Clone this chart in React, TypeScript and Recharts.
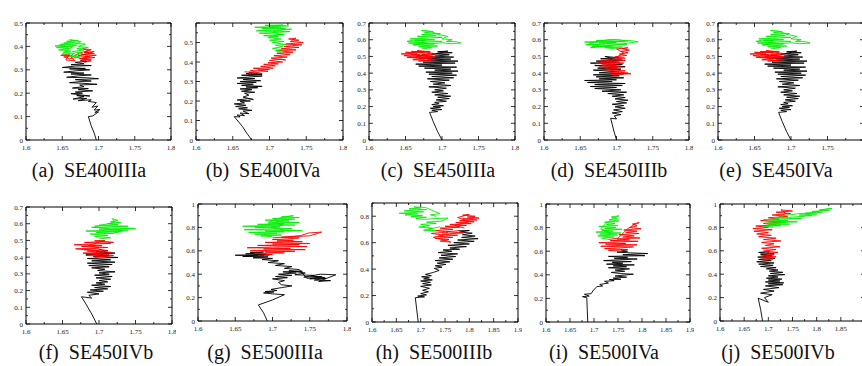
import React from 'react';
import { LineChart, Line, XAxis, YAxis, ReferenceArea } from 'recharts';

type Pt = [number, number];

// trajectories, (x, y) pairs in data units
const aBlack: Pt[] = [[1.697,0],[1.694,0.03],[1.690,0.06],[1.686,0.1],[1.692,0.103],[1.700,0.12],[1.695,0.118],[1.702,0.13],[1.694,0.128],[1.699,0.145],[1.691,0.14],[1.697,0.16],[1.686,0.165],[1.690,0.172],[1.672,0.168],[1.684,0.178],[1.665,0.175],[1.680,0.185],[1.670,0.19],[1.688,0.188],[1.662,0.198],[1.678,0.2],[1.668,0.205],[1.692,0.21],[1.672,0.215],[1.686,0.22],[1.664,0.222],[1.680,0.228],[1.674,0.235],[1.698,0.238],[1.680,0.242],[1.660,0.245],[1.676,0.25],[1.690,0.252],[1.668,0.258],[1.700,0.262],[1.684,0.266],[1.656,0.268],[1.672,0.274],[1.690,0.278],[1.662,0.282],[1.680,0.286],[1.652,0.29],[1.670,0.296],[1.688,0.3],[1.660,0.304],[1.682,0.306],[1.650,0.31],[1.668,0.316],[1.690,0.318],[1.662,0.322],[1.680,0.326],[1.668,0.332],[1.684,0.336],[1.675,0.34]];
const aRed: Pt[] = [[1.675,0.34],[1.690,0.345],[1.678,0.35],[1.695,0.352],[1.682,0.358],[1.697,0.362],[1.676,0.365],[1.692,0.37],[1.680,0.374],[1.694,0.378],[1.685,0.368],[1.672,0.36],[1.688,0.355],[1.674,0.348],[1.690,0.338],[1.680,0.332],[1.684,0.346],[1.670,0.352],[1.660,0.348],[1.652,0.355],[1.664,0.36],[1.648,0.362],[1.660,0.368],[1.655,0.342],[1.668,0.338],[1.662,0.352],[1.674,0.372],[1.686,0.382],[1.678,0.39],[1.690,0.386],[1.682,0.376],[1.695,0.368]];
const aGreen: Pt[] = [[1.668,0.37],[1.652,0.375],[1.662,0.38],[1.645,0.385],[1.660,0.39],[1.642,0.395],[1.658,0.398],[1.640,0.402],[1.655,0.405],[1.648,0.41],[1.662,0.408],[1.652,0.415],[1.668,0.418],[1.656,0.422],[1.672,0.425],[1.660,0.428],[1.676,0.42],[1.668,0.412],[1.682,0.41],[1.672,0.4],[1.686,0.395],[1.670,0.39],[1.680,0.385],[1.664,0.378],[1.678,0.37],[1.668,0.362],[1.674,0.355],[1.660,0.358],[1.666,0.368],[1.650,0.368],[1.658,0.385],[1.665,0.4],[1.648,0.398],[1.670,0.405],[1.658,0.412],[1.645,0.405]];

const bBlack: Pt[] = [[1.676,0],[1.670,0.03],[1.663,0.07],[1.652,0.12],[1.660,0.118],[1.656,0.128],[1.666,0.125],[1.660,0.138],[1.672,0.135],[1.664,0.148],[1.676,0.152],[1.658,0.16],[1.670,0.165],[1.654,0.172],[1.668,0.178],[1.652,0.185],[1.666,0.19],[1.660,0.198],[1.674,0.2],[1.656,0.205],[1.670,0.212],[1.678,0.208],[1.664,0.22],[1.672,0.23],[1.666,0.24],[1.680,0.245],[1.662,0.25],[1.676,0.258],[1.660,0.262],[1.684,0.268],[1.668,0.272],[1.690,0.275],[1.662,0.28],[1.678,0.286],[1.656,0.29],[1.682,0.296],[1.660,0.3],[1.688,0.304],[1.664,0.31],[1.680,0.315],[1.656,0.318],[1.676,0.324],[1.690,0.328],[1.662,0.332],[1.684,0.336],[1.668,0.34],[1.690,0.335],[1.672,0.348],[1.676,0.345]];
const bRed: Pt[] = [[1.666,0.35],[1.680,0.345],[1.690,0.34],[1.674,0.356],[1.698,0.352],[1.684,0.36],[1.700,0.362],[1.678,0.368],[1.694,0.37],[1.705,0.368],[1.688,0.378],[1.708,0.38],[1.692,0.388],[1.712,0.39],[1.698,0.396],[1.718,0.4],[1.700,0.408],[1.715,0.415],[1.722,0.41],[1.702,0.42],[1.724,0.425],[1.706,0.432],[1.728,0.438],[1.710,0.445],[1.732,0.45],[1.712,0.458],[1.736,0.462],[1.716,0.468],[1.740,0.475],[1.720,0.48],[1.744,0.488],[1.722,0.492],[1.746,0.5],[1.728,0.505],[1.740,0.512],[1.726,0.518],[1.736,0.522],[1.730,0.51]];
const bGreen: Pt[] = [[1.715,0.45],[1.708,0.458],[1.720,0.462],[1.704,0.47],[1.718,0.478],[1.708,0.486],[1.722,0.49],[1.704,0.5],[1.720,0.505],[1.700,0.512],[1.716,0.518],[1.698,0.525],[1.712,0.53],[1.692,0.535],[1.720,0.54],[1.686,0.548],[1.712,0.552],[1.728,0.556],[1.682,0.56],[1.700,0.562],[1.730,0.568],[1.690,0.572],[1.716,0.575],[1.680,0.578],[1.708,0.582],[1.726,0.585],[1.694,0.588],[1.718,0.59],[1.700,0.578],[1.722,0.57],[1.705,0.555],[1.715,0.54],[1.700,0.53]];

const cBlack: Pt[] = [[1.700,0],[1.694,0.05],[1.688,0.11],[1.683,0.165],[1.694,0.17],[1.686,0.178],[1.700,0.182],[1.684,0.19],[1.698,0.196],[1.688,0.2],[1.702,0.205],[1.686,0.212],[1.696,0.218],[1.690,0.225],[1.706,0.232],[1.692,0.24],[1.710,0.248],[1.694,0.256],[1.712,0.262],[1.690,0.27],[1.708,0.278],[1.686,0.286],[1.702,0.294],[1.690,0.3],[1.706,0.31],[1.682,0.318],[1.712,0.326],[1.688,0.334],[1.704,0.342],[1.684,0.35],[1.710,0.358],[1.680,0.366],[1.716,0.372],[1.686,0.38],[1.720,0.388],[1.682,0.394],[1.714,0.4],[1.678,0.406],[1.722,0.412],[1.690,0.418],[1.712,0.424],[1.676,0.43],[1.720,0.436],[1.668,0.442],[1.700,0.448],[1.664,0.454],[1.718,0.46],[1.674,0.466],[1.722,0.472],[1.680,0.478],[1.712,0.484],[1.670,0.49],[1.716,0.496],[1.690,0.502],[1.710,0.51],[1.686,0.516],[1.714,0.522],[1.694,0.528],[1.708,0.532],[1.685,0.51]];
const cRed: Pt[] = [[1.685,0.51],[1.668,0.505],[1.690,0.5],[1.660,0.496],[1.686,0.49],[1.652,0.495],[1.676,0.485],[1.660,0.48],[1.682,0.476],[1.668,0.472],[1.690,0.48],[1.672,0.49],[1.648,0.505],[1.670,0.51],[1.644,0.515],[1.666,0.52],[1.650,0.525],[1.676,0.522],[1.658,0.53],[1.684,0.528],[1.666,0.535],[1.692,0.515],[1.672,0.512],[1.688,0.5],[1.658,0.51],[1.680,0.505],[1.664,0.498],[1.684,0.518],[1.670,0.525]];
const cGreen: Pt[] = [[1.672,0.545],[1.686,0.552],[1.668,0.558],[1.694,0.562],[1.660,0.57],[1.690,0.575],[1.654,0.58],[1.680,0.585],[1.700,0.59],[1.662,0.595],[1.690,0.6],[1.656,0.605],[1.684,0.61],[1.700,0.614],[1.666,0.62],[1.692,0.625],[1.672,0.632],[1.698,0.636],[1.676,0.642],[1.688,0.648],[1.672,0.655],[1.684,0.65],[1.696,0.63],[1.708,0.62],[1.700,0.605],[1.714,0.6],[1.706,0.59],[1.720,0.588],[1.726,0.58],[1.712,0.576],[1.700,0.582],[1.684,0.575],[1.668,0.585],[1.652,0.59],[1.664,0.6],[1.676,0.595],[1.662,0.565]];

const dBlack: Pt[] = [[1.700,0],[1.696,0.06],[1.692,0.13],[1.700,0.126],[1.697,0.145],[1.706,0.152],[1.694,0.162],[1.708,0.17],[1.696,0.18],[1.712,0.19],[1.698,0.198],[1.710,0.206],[1.694,0.214],[1.714,0.222],[1.700,0.23],[1.716,0.238],[1.698,0.246],[1.712,0.254],[1.694,0.262],[1.710,0.27],[1.688,0.278],[1.714,0.286],[1.680,0.292],[1.706,0.3],[1.670,0.308],[1.700,0.314],[1.664,0.32],[1.708,0.326],[1.670,0.332],[1.712,0.338],[1.660,0.344],[1.694,0.35],[1.656,0.356],[1.700,0.36],[1.676,0.366],[1.710,0.372],[1.672,0.378],[1.704,0.384],[1.668,0.39],[1.710,0.396],[1.676,0.402],[1.700,0.41],[1.668,0.418],[1.706,0.424],[1.674,0.43],[1.712,0.438],[1.670,0.445],[1.708,0.452],[1.664,0.46],[1.700,0.466],[1.672,0.472],[1.708,0.478],[1.678,0.486],[1.704,0.492],[1.684,0.5],[1.700,0.48]];
const dRed: Pt[] = [[1.700,0.48],[1.678,0.472],[1.704,0.466],[1.674,0.46],[1.698,0.454],[1.680,0.448],[1.706,0.442],[1.676,0.436],[1.700,0.43],[1.686,0.42],[1.712,0.414],[1.690,0.406],[1.716,0.4],[1.694,0.392],[1.720,0.396],[1.700,0.41],[1.684,0.426],[1.702,0.44],[1.690,0.452],[1.710,0.46],[1.692,0.468],[1.712,0.476],[1.694,0.484],[1.712,0.49],[1.698,0.498],[1.714,0.506],[1.704,0.514],[1.716,0.522],[1.706,0.53],[1.718,0.538],[1.708,0.546],[1.716,0.552],[1.700,0.545],[1.710,0.52],[1.690,0.47],[1.670,0.455]];
const dGreen: Pt[] = [[1.700,0.545],[1.684,0.552],[1.708,0.556],[1.666,0.56],[1.694,0.565],[1.658,0.57],[1.688,0.574],[1.714,0.572],[1.676,0.58],[1.700,0.584],[1.656,0.586],[1.684,0.59],[1.712,0.588],[1.672,0.595],[1.698,0.598],[1.720,0.594],[1.730,0.588],[1.716,0.58],[1.704,0.572],[1.690,0.56],[1.664,0.552],[1.676,0.565],[1.662,0.58],[1.688,0.6],[1.700,0.602],[1.716,0.59]];

// panel (e) is drawn from the same run as (c) in the figure
const eBlack = cBlack;
const eRed = cRed;
const eGreen = cGreen;

const fBlack: Pt[] = [[1.697,0],[1.690,0.06],[1.682,0.12],[1.676,0.163],[1.690,0.155],[1.686,0.172],[1.700,0.18],[1.684,0.19],[1.706,0.196],[1.688,0.204],[1.712,0.21],[1.694,0.218],[1.716,0.224],[1.690,0.232],[1.708,0.238],[1.696,0.246],[1.712,0.252],[1.700,0.26],[1.716,0.268],[1.696,0.276],[1.718,0.284],[1.694,0.292],[1.714,0.298],[1.700,0.306],[1.722,0.312],[1.698,0.32],[1.708,0.328],[1.690,0.336],[1.714,0.342],[1.686,0.35],[1.718,0.356],[1.684,0.364],[1.722,0.37],[1.690,0.378],[1.716,0.384],[1.684,0.392],[1.726,0.398],[1.692,0.406],[1.714,0.412],[1.682,0.418],[1.722,0.424],[1.696,0.432],[1.712,0.438],[1.700,0.446]];
const fRed: Pt[] = [[1.700,0.44],[1.684,0.436],[1.706,0.43],[1.678,0.424],[1.700,0.418],[1.682,0.41],[1.712,0.405],[1.694,0.4],[1.720,0.41],[1.696,0.42],[1.718,0.428],[1.690,0.44],[1.668,0.45],[1.692,0.454],[1.712,0.458],[1.676,0.464],[1.704,0.468],[1.666,0.474],[1.690,0.478],[1.716,0.482],[1.680,0.488],[1.702,0.492],[1.720,0.488],[1.694,0.498],[1.708,0.5],[1.686,0.47],[1.700,0.455],[1.680,0.445],[1.712,0.44]];
const fGreen: Pt[] = [[1.700,0.51],[1.716,0.516],[1.694,0.524],[1.712,0.53],[1.688,0.538],[1.720,0.542],[1.696,0.548],[1.730,0.552],[1.682,0.556],[1.710,0.56],[1.740,0.562],[1.700,0.568],[1.750,0.57],[1.724,0.574],[1.690,0.578],[1.716,0.582],[1.740,0.585],[1.700,0.59],[1.726,0.594],[1.712,0.6],[1.730,0.606],[1.716,0.612],[1.726,0.62],[1.718,0.63],[1.722,0.61],[1.708,0.596],[1.694,0.585],[1.716,0.566],[1.734,0.558],[1.720,0.545]];

const gBlack: Pt[] = [[1.693,0],[1.688,0.07],[1.681,0.137],[1.700,0.18],[1.716,0.225],[1.700,0.232],[1.688,0.24],[1.702,0.248],[1.690,0.252],[1.706,0.26],[1.698,0.27],[1.712,0.285],[1.726,0.3],[1.712,0.31],[1.708,0.33],[1.716,0.345],[1.700,0.36],[1.720,0.37],[1.704,0.38],[1.726,0.39],[1.708,0.4],[1.732,0.41],[1.714,0.42],[1.740,0.425],[1.722,0.43],[1.744,0.41],[1.730,0.395],[1.756,0.39],[1.742,0.375],[1.766,0.38],[1.750,0.36],[1.772,0.365],[1.756,0.35],[1.778,0.345],[1.762,0.338],[1.785,0.395],[1.764,0.4],[1.752,0.385],[1.770,0.372],[1.746,0.365],[1.736,0.44],[1.716,0.45],[1.726,0.465],[1.704,0.475],[1.716,0.49],[1.694,0.5],[1.708,0.515],[1.686,0.525],[1.700,0.535],[1.674,0.54],[1.694,0.548],[1.660,0.552],[1.688,0.558],[1.650,0.562],[1.676,0.566],[1.692,0.57],[1.664,0.574],[1.684,0.58],[1.670,0.586],[1.688,0.59],[1.676,0.575],[1.696,0.565],[1.680,0.56]];
const gRed: Pt[] = [[1.680,0.56],[1.700,0.568],[1.676,0.578],[1.716,0.582],[1.690,0.59],[1.730,0.596],[1.670,0.6],[1.706,0.606],[1.744,0.61],[1.688,0.616],[1.724,0.62],[1.666,0.626],[1.700,0.632],[1.746,0.636],[1.712,0.642],[1.680,0.646],[1.736,0.652],[1.700,0.658],[1.750,0.662],[1.716,0.668],[1.690,0.672],[1.740,0.678],[1.706,0.684],[1.728,0.69],[1.700,0.696],[1.720,0.702],[1.736,0.71],[1.712,0.716],[1.750,0.728],[1.766,0.76],[1.748,0.752],[1.738,0.73],[1.720,0.72],[1.700,0.71]];
const gGreen: Pt[] = [[1.700,0.72],[1.684,0.728],[1.712,0.734],[1.676,0.742],[1.706,0.75],[1.668,0.756],[1.716,0.762],[1.690,0.768],[1.740,0.772],[1.662,0.78],[1.700,0.786],[1.726,0.79],[1.676,0.798],[1.710,0.804],[1.660,0.81],[1.690,0.816],[1.730,0.82],[1.680,0.826],[1.716,0.832],[1.694,0.838],[1.736,0.842],[1.704,0.848],[1.722,0.856],[1.690,0.862],[1.730,0.87],[1.700,0.876],[1.736,0.884],[1.712,0.89],[1.728,0.9],[1.710,0.88],[1.696,0.85],[1.714,0.82],[1.698,0.8],[1.722,0.77]];

const hBlack: Pt[] = [[1.695,0],[1.692,0.09],[1.689,0.184],[1.708,0.19],[1.694,0.196],[1.712,0.205],[1.700,0.215],[1.716,0.228],[1.704,0.24],[1.718,0.255],[1.700,0.27],[1.722,0.28],[1.704,0.29],[1.720,0.3],[1.700,0.31],[1.724,0.318],[1.706,0.326],[1.718,0.334],[1.702,0.342],[1.722,0.35],[1.710,0.36],[1.726,0.375],[1.738,0.39],[1.728,0.405],[1.744,0.415],[1.730,0.425],[1.752,0.435],[1.734,0.445],[1.760,0.455],[1.730,0.465],[1.766,0.475],[1.738,0.485],[1.772,0.495],[1.742,0.505],[1.776,0.515],[1.736,0.525],[1.764,0.535],[1.746,0.545],[1.780,0.55],[1.760,0.56],[1.794,0.57],[1.756,0.58],[1.800,0.59],[1.768,0.6],[1.810,0.61],[1.776,0.62],[1.818,0.63],[1.784,0.64],[1.812,0.65],[1.786,0.66],[1.806,0.672],[1.780,0.68],[1.800,0.692],[1.776,0.69]];
const hRed: Pt[] = [[1.776,0.69],[1.752,0.682],[1.788,0.674],[1.744,0.664],[1.776,0.656],[1.736,0.648],[1.766,0.64],[1.730,0.632],[1.758,0.624],[1.740,0.612],[1.762,0.604],[1.750,0.62],[1.726,0.64],[1.746,0.658],[1.722,0.67],[1.756,0.68],[1.730,0.692],[1.766,0.7],[1.740,0.71],[1.780,0.716],[1.750,0.724],[1.794,0.73],[1.760,0.738],[1.804,0.744],[1.772,0.752],[1.810,0.758],[1.780,0.766],[1.816,0.772],[1.786,0.78],[1.820,0.786],[1.796,0.794],[1.812,0.8],[1.786,0.808],[1.800,0.814],[1.776,0.79],[1.800,0.76],[1.770,0.73],[1.790,0.71]];
const hGreen: Pt[] = [[1.740,0.72],[1.716,0.702],[1.732,0.688],[1.706,0.694],[1.724,0.71],[1.696,0.718],[1.718,0.728],[1.700,0.738],[1.732,0.746],[1.712,0.756],[1.742,0.762],[1.756,0.786],[1.730,0.782],[1.706,0.776],[1.690,0.784],[1.712,0.792],[1.680,0.796],[1.704,0.804],[1.668,0.81],[1.694,0.818],[1.656,0.822],[1.684,0.828],[1.706,0.834],[1.666,0.84],[1.690,0.846],[1.712,0.85],[1.676,0.856],[1.700,0.862],[1.686,0.87],[1.710,0.866],[1.726,0.84],[1.740,0.82],[1.720,0.81],[1.732,0.8]];

const iBlack: Pt[] = [[1.687,0],[1.686,0.1],[1.685,0.205],[1.676,0.215],[1.690,0.22],[1.680,0.235],[1.694,0.24],[1.698,0.265],[1.706,0.3],[1.718,0.305],[1.712,0.318],[1.730,0.33],[1.722,0.345],[1.742,0.35],[1.732,0.36],[1.756,0.362],[1.740,0.372],[1.768,0.38],[1.744,0.39],[1.782,0.405],[1.756,0.41],[1.736,0.42],[1.764,0.43],[1.744,0.44],[1.774,0.45],[1.730,0.46],[1.768,0.468],[1.740,0.476],[1.784,0.484],[1.726,0.49],[1.760,0.498],[1.738,0.506],[1.778,0.512],[1.720,0.52],[1.756,0.528],[1.790,0.534],[1.742,0.54],[1.770,0.548],[1.730,0.556],[1.806,0.562],[1.760,0.57],[1.812,0.58],[1.776,0.586],[1.748,0.592],[1.770,0.6],[1.756,0.61]];
const iRed: Pt[] = [[1.756,0.6],[1.730,0.608],[1.770,0.614],[1.722,0.622],[1.760,0.63],[1.782,0.636],[1.714,0.642],[1.750,0.648],[1.790,0.654],[1.724,0.66],[1.766,0.666],[1.710,0.672],[1.746,0.678],[1.792,0.684],[1.734,0.69],[1.774,0.696],[1.748,0.704],[1.796,0.712],[1.760,0.72],[1.784,0.73],[1.752,0.74],[1.794,0.75],[1.766,0.76],[1.790,0.77],[1.762,0.78],[1.798,0.79],[1.774,0.8],[1.790,0.815],[1.780,0.83],[1.794,0.842],[1.782,0.82],[1.770,0.79],[1.750,0.71],[1.730,0.7]];
const iGreen: Pt[] = [[1.730,0.7],[1.716,0.712],[1.742,0.72],[1.708,0.73],[1.748,0.738],[1.712,0.746],[1.756,0.754],[1.704,0.762],[1.740,0.77],[1.716,0.778],[1.758,0.786],[1.722,0.794],[1.746,0.802],[1.710,0.81],[1.750,0.818],[1.726,0.826],[1.744,0.836],[1.722,0.846],[1.752,0.856],[1.732,0.866],[1.748,0.878],[1.736,0.89],[1.752,0.9],[1.740,0.88],[1.726,0.84],[1.714,0.79],[1.736,0.75]];

const jBlack: Pt[] = [[1.688,0],[1.684,0.1],[1.679,0.195],[1.700,0.16],[1.692,0.2],[1.708,0.225],[1.684,0.238],[1.712,0.256],[1.690,0.27],[1.722,0.285],[1.694,0.3],[1.730,0.31],[1.700,0.318],[1.732,0.326],[1.694,0.334],[1.724,0.342],[1.700,0.35],[1.728,0.358],[1.696,0.366],[1.720,0.376],[1.700,0.386],[1.734,0.396],[1.704,0.406],[1.730,0.416],[1.702,0.426],[1.720,0.436],[1.696,0.446],[1.716,0.456],[1.684,0.466],[1.710,0.476],[1.680,0.486],[1.712,0.496],[1.676,0.506],[1.706,0.516],[1.680,0.526],[1.714,0.536],[1.678,0.546],[1.708,0.556],[1.684,0.566],[1.712,0.576],[1.680,0.586],[1.702,0.594],[1.690,0.55]];
const jRed: Pt[] = [[1.690,0.52],[1.710,0.53],[1.684,0.54],[1.716,0.548],[1.688,0.556],[1.712,0.566],[1.684,0.576],[1.720,0.586],[1.690,0.598],[1.716,0.61],[1.686,0.622],[1.724,0.634],[1.694,0.646],[1.712,0.66],[1.686,0.672],[1.726,0.684],[1.690,0.696],[1.716,0.708],[1.680,0.72],[1.706,0.732],[1.676,0.744],[1.700,0.756],[1.670,0.768],[1.708,0.78],[1.668,0.79],[1.700,0.8],[1.674,0.812],[1.716,0.822],[1.690,0.834],[1.726,0.846],[1.684,0.858],[1.722,0.87],[1.700,0.882],[1.740,0.894],[1.708,0.906],[1.746,0.918],[1.716,0.93],[1.750,0.94],[1.726,0.95],[1.736,0.92],[1.710,0.86]];
const jGreen: Pt[] = [[1.710,0.8],[1.690,0.808],[1.726,0.814],[1.700,0.822],[1.744,0.828],[1.694,0.836],[1.730,0.842],[1.760,0.848],[1.704,0.854],[1.740,0.86],[1.690,0.866],[1.726,0.872],[1.768,0.876],[1.710,0.882],[1.750,0.888],[1.790,0.9],[1.764,0.906],[1.800,0.914],[1.776,0.92],[1.812,0.93],[1.790,0.936],[1.826,0.946],[1.806,0.95],[1.832,0.962],[1.818,0.955],[1.796,0.928],[1.760,0.916],[1.730,0.9],[1.714,0.87],[1.736,0.846],[1.716,0.83],[1.700,0.81]];

// axis ticks (majors get a label, the rest are minor marks)
const xTicksA = [1.6, 1.625, 1.65, 1.675, 1.7, 1.725, 1.75, 1.775, 1.8];
const xTicksB = [1.6, 1.625, 1.65, 1.675, 1.7, 1.725, 1.75, 1.775, 1.8, 1.825, 1.85, 1.875, 1.9];
const yTicks05 = [0, 0.05, 0.1, 0.15, 0.2, 0.25, 0.3, 0.35, 0.4, 0.45, 0.5];
const yTicks06 = [0, 0.05, 0.1, 0.15, 0.2, 0.25, 0.3, 0.35, 0.4, 0.45, 0.5, 0.55, 0.6];
const yTicks07 = [0, 0.05, 0.1, 0.15, 0.2, 0.25, 0.3, 0.35, 0.4, 0.45, 0.5, 0.55, 0.6, 0.65, 0.7];
const yTicks09 = [0, 0.1, 0.2, 0.3, 0.4, 0.5, 0.6, 0.7, 0.8, 0.9];
const yTicks10 = [0, 0.1, 0.2, 0.3, 0.4, 0.5, 0.6, 0.7, 0.8, 0.9, 1];

const captionsTop = ['(a)  SE400IIIa', '(b)  SE400IVa', '(c)  SE450IIIa', '(d)  SE450IIIb', '(e)  SE450IVa'];
const captionsBottom = ['(f)  SE450IVb', '(g)  SE500IIIa', '(h)  SE500IIIb', '(i)  SE500IVa', '(j)  SE500IVb'];

const PAGE_W = 862;

const rows = (pts: Pt[]) => pts.map(([x, y]) => ({ x, y }));
const onStep = (v: number, step: number) => Math.abs(v / step - Math.round(v / step)) < 1e-6;
const fmt = (v: number) => String(Number(v.toFixed(3)));

const tickFont = '"Liberation Serif", serif';

function XTick(props: any) {
  const { x, y, payload, boxH, pageLeft } = props;
  const v = payload.value;
  const major = onStep(v, 0.05);
  const len = major ? 4 : 2;
  // labels that fall past the page edge are cropped away in the figure
  const showLabel = major && pageLeft + x + 6 < PAGE_W;
  return (
    <g>
      <line x1={x} y1={y} x2={x} y2={y - len} stroke="#000" strokeWidth={0.8} />
      <line x1={x} y1={y - boxH} x2={x} y2={y - boxH + len} stroke="#000" strokeWidth={0.8} />
      {showLabel && (
        <text x={x} y={y + 10} textAnchor="middle" fontSize={7} fill="#222" fontFamily={tickFont}>
          {fmt(v)}
        </text>
      )}
    </g>
  );
}

function YTick(props: any) {
  const { x, y, payload, boxW, step, labelMax } = props;
  const v = payload.value;
  const major = onStep(v, step);
  const len = major ? 4 : 2;
  return (
    <g>
      <line x1={x} y1={y} x2={x + len} y2={y} stroke="#000" strokeWidth={0.8} />
      <line x1={x + boxW} y1={y} x2={x + boxW - len} y2={y} stroke="#000" strokeWidth={0.8} />
      {major && v <= labelMax && (
        <text x={x - 3} y={y + 2.5} textAnchor="end" fontSize={7} fill="#222" fontFamily={tickFont}>
          {fmt(v)}
        </text>
      )}
    </g>
  );
}

interface PanelProps {
  x: number;
  y: number;
  w: number;
  h: number;
  xMax: number;
  xTicks: number[];
  yMax: number;
  yTicks: number[];
  yStep: number;
  labelMax?: number;
  black: Pt[];
  red: Pt[];
  green: Pt[];
}

function Panel({ x, y, w, h, xMax, xTicks, yMax, yTicks, yStep, labelMax, black, red, green }: PanelProps) {
  const L = 30, T = 4, R = 4, B = 14;
  const series = [
    { pts: black, color: '#000000' },
    { pts: red, color: '#ff0000' },
    { pts: green, color: '#00ee00' },
  ];
  return (
    <div style={{ position: 'absolute', left: x - L, top: y - T }}>
      <LineChart width={w + L + R} height={h + T + B} margin={{ top: T, right: R, bottom: 0, left: 0 }}>
        <XAxis
          type="number"
          dataKey="x"
          domain={[1.6, xMax]}
          ticks={xTicks}
          interval={0}
          allowDataOverflow
          axisLine={false}
          tickLine={false}
          tickSize={0}
          tickMargin={0}
          height={B}
          tick={(p: any) => <XTick {...p} boxH={h} pageLeft={x - L} />}
        />
        <YAxis
          type="number"
          dataKey="y"
          domain={[0, yMax]}
          ticks={yTicks}
          interval={0}
          allowDataOverflow
          axisLine={false}
          tickLine={false}
          tickSize={0}
          tickMargin={0}
          width={L}
          tick={(p: any) => <YTick {...p} boxW={w} step={yStep} labelMax={labelMax ?? yMax} />}
        />
        {series.map((s, i) => (
          <Line
            key={i}
            data={rows(s.pts)}
            dataKey="y"
            type="linear"
            stroke={s.color}
            strokeWidth={0.9}
            dot={false}
            activeDot={false}
            isAnimationActive={false}
          />
        ))}
        <ReferenceArea x1={1.6} x2={xMax} y1={0} y2={yMax} fill="none" stroke="#000" strokeWidth={1} />
      </LineChart>
    </div>
  );
}

const captionStyle = (cx: number, top: number): React.CSSProperties => ({
  position: 'absolute',
  left: cx - 80,
  top,
  width: 160,
  textAlign: 'center',
  fontFamily: '"Liberation Serif", serif',
  fontSize: 20,
  lineHeight: '20px',
  whiteSpace: 'pre',
  color: '#111',
});

export default function App() {
  const topCx = [89, 263, 438, 609, 776];
  const bottomCx = [96, 265, 434, 604, 778];
  return (
    <div style={{ position: 'absolute', left: 0, top: 0, width: PAGE_W, height: 366, overflow: 'hidden', background: '#fff' }}>
      <Panel x={26} y={23} w={145} h={117} xMax={1.8} xTicks={xTicksA} yMax={0.5} yTicks={yTicks05} yStep={0.1} black={aBlack} red={aRed} green={aGreen} />
      <Panel x={196} y={23} w={147} h={117} xMax={1.8} xTicks={xTicksA} yMax={0.6} yTicks={yTicks06} yStep={0.1} labelMax={0.5} black={bBlack} red={bRed} green={bGreen} />
      <Panel x={369} y={23} w={146} h={117} xMax={1.8} xTicks={xTicksA} yMax={0.7} yTicks={yTicks07} yStep={0.1} black={cBlack} red={cRed} green={cGreen} />
      <Panel x={544} y={23} w={145} h={117} xMax={1.8} xTicks={xTicksA} yMax={0.7} yTicks={yTicks07} yStep={0.1} black={dBlack} red={dRed} green={dGreen} />
      <Panel x={718} y={23} w={146} h={117} xMax={1.8} xTicks={xTicksA} yMax={0.7} yTicks={yTicks07} yStep={0.1} black={eBlack} red={eRed} green={eGreen} />

      <Panel x={26} y={207} w={146} h={117} xMax={1.8} xTicks={xTicksA} yMax={0.7} yTicks={yTicks07} yStep={0.1} black={fBlack} red={fRed} green={fGreen} />
      <Panel x={198} y={204} w={149} h={117} xMax={1.8} xTicks={xTicksA} yMax={1} yTicks={yTicks10} yStep={0.2} black={gBlack} red={gRed} green={gGreen} />
      <Panel x={372} y={203} w={146} h={119} xMax={1.9} xTicks={xTicksB} yMax={0.9} yTicks={yTicks09} yStep={0.2} black={hBlack} red={hRed} green={hGreen} />
      <Panel x={546} y={204} w={144} h={118} xMax={1.9} xTicks={xTicksB} yMax={1} yTicks={yTicks10} yStep={0.2} black={iBlack} red={iRed} green={iGreen} />
      <Panel x={720} y={204} w={145} h={117} xMax={1.9} xTicks={xTicksB} yMax={1} yTicks={yTicks10} yStep={0.2} black={jBlack} red={jRed} green={jGreen} />

      {captionsTop.map((c, i) => (
        <div key={c} style={captionStyle(topCx[i], 160)}>{c}</div>
      ))}
      {captionsBottom.map((c, i) => (
        <div key={c} style={captionStyle(bottomCx[i], 342)}>{c}</div>
      ))}
    </div>
  );
}
